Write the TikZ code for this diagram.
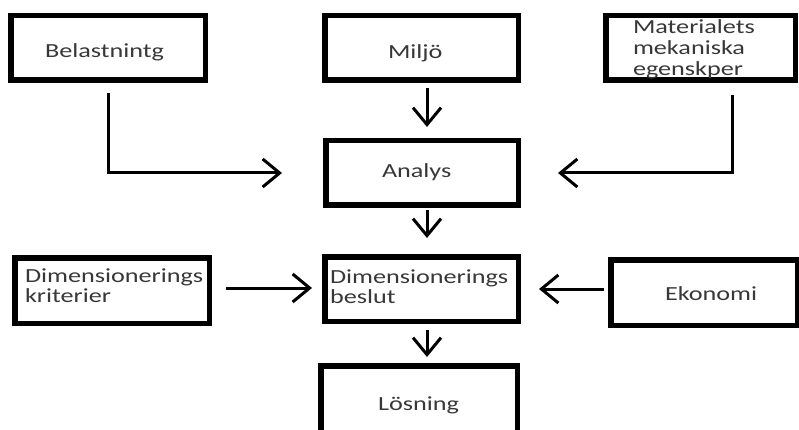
\documentclass[tikz,border=0pt]{standalone}
\usepackage{fontspec}
\setmainfont{Carlito}[FakeStretch=1.31]
\usetikzlibrary{arrows.meta}
\hyphenpenalty=10000
\exhyphenpenalty=10000
\definecolor{txtgray}{HTML}{383838}
\tikzset{
  box/.style={draw=black, line width=5.5pt, inner ysep=0pt, align=left,
    text=txtgray, font=\fontsize{20pt}{20pt}\selectfont},
  arr/.style={draw=black, line width=3pt,
    -{Straight Barb[length=17pt, width=28pt, line width=3pt]}}
}
\begin{document}
\begin{tikzpicture}[x=1pt, y=-1pt]
\path[use as bounding box, fill=white] (0,0) rectangle (799,430);

% boxes (center, left offset = inner xsep, text width, text height/depth around first baseline)
\node[box, inner xsep=34.25pt, text width=126pt, text height=42.25pt, text depth=22.25pt]
  (bel) at (108,48) {Belastnintg};
\node[box, inner xsep=63.25pt, text width=67pt, text height=43.25pt, text depth=21.25pt]
  (mil) at (421.5,48) {Miljö};
\node[box, inner xsep=27.25pt, text width=135pt, text height=18.25pt, text depth=46.25pt,
  font=\fontsize{20pt}{21pt}\selectfont]
  (mat) at (700.5,48) {Materialets\\mekaniska\\egenskper};
\node[box, inner xsep=56.25pt, text width=80pt, text height=37.25pt, text depth=27.25pt]
  (ana) at (422,173) {Analys};
\node[box, inner xsep=10.25pt, text width=174pt, text height=24.25pt, text depth=41.25pt]
  (kri) at (112,290.5) {Dimensionerings\\kriterier};
\node[box, inner xsep=5.25pt, text width=183pt, text height=26.25pt, text depth=38.25pt]
  (bes) at (421.5,289) {Dimensionerings\\beslut};
\node[box, inner xsep=54.25pt, text width=78pt, text height=40.25pt, text depth=25.25pt]
  (eko) at (704,292.5) {Ekonomi};
\node[box, inner xsep=57.25pt, text width=82pt, text height=44.25pt, text depth=23.25pt]
  (los) at (419,399.5) {Lösning};

% connectors
\draw[arr, shorten <=10pt, shorten >=41pt] (bel) |- (ana);
\draw[arr, shorten <=5pt, shorten >=11pt] ([xshift=5.5pt]mil.south) -- ([xshift=5pt]ana.north);
\draw[arr, shorten <=12pt, shorten >=37pt] ([xshift=31.5pt]mat.south) |- (ana.east);
\draw[arr, shorten <=2pt, shorten >=16pt] ([xshift=5pt]ana.south) -- ([xshift=5.5pt]bes.north);
\draw[arr, shorten <=14pt, shorten >=10pt] ([yshift=2.5pt]kri.east) -- ([yshift=1pt]bes.west);
\draw[arr, shorten <=4pt, shorten >=18pt] ([yshift=3.5pt]eko.west) -- (bes.east);
\draw[arr, shorten <=6pt, shorten >=6pt] ([xshift=5.5pt]bes.south) -- ([xshift=8pt]los.north);
\end{tikzpicture}
\end{document}
